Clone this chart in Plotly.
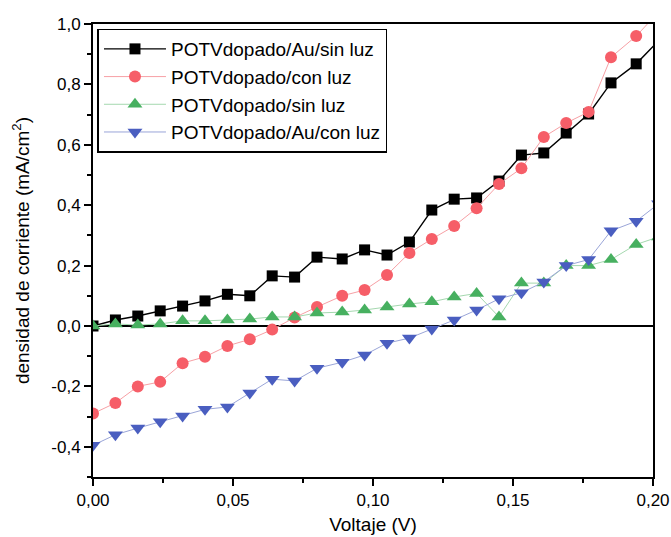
import plotly.graph_objects as go

voltaje = [0.000, 0.008, 0.016, 0.024, 0.032, 0.040, 0.048, 0.056, 0.064, 0.072,
           0.080, 0.089, 0.097, 0.105, 0.113, 0.121, 0.129, 0.137, 0.145, 0.153,
           0.161, 0.169, 0.177, 0.185, 0.194, 0.202]

au_sin_luz = [0.00, 0.020, 0.033, 0.050, 0.066, 0.083, 0.105, 0.100, 0.166, 0.162,
              0.228, 0.222, 0.252, 0.235, 0.278, 0.384, 0.420, 0.424, 0.480, 0.566,
              0.573, 0.639, 0.702, 0.805, 0.868, 0.945]
con_luz = [-0.29, -0.255, -0.200, -0.185, -0.123, -0.102, -0.066, -0.044, -0.012, 0.028,
           0.063, 0.100, 0.119, 0.169, 0.242, 0.288, 0.331, 0.390, 0.470, 0.522,
           0.626, 0.672, 0.709, 0.890, 0.960, 1.040]
sin_luz = [0.000, 0.007, 0.003, 0.007, 0.017, 0.017, 0.020, 0.023, 0.030, 0.030,
           0.043, 0.046, 0.053, 0.063, 0.073, 0.080, 0.096, 0.108, 0.030, 0.142,
           0.142, 0.200, 0.200, 0.220, 0.270, 0.295]
au_con_luz = [-0.395, -0.360, -0.338, -0.317, -0.298, -0.276, -0.268, -0.222, -0.176, -0.182,
              -0.140, -0.120, -0.096, -0.057, -0.040, -0.010, 0.020, 0.053, 0.090, 0.110,
              0.146, 0.200, 0.220, 0.315, 0.347, 0.405]

x_tick_vals = [0, 0.05, 0.10, 0.15, 0.20]
x_tick_text = ["0,00", "0,05", "0,10", "0,15", "0,20"]
y_tick_vals = [-0.4, -0.2, 0, 0.2, 0.4, 0.6, 0.8, 1.0]
y_tick_text = ["-0,4", "-0,2", "0,0", "0,2", "0,4", "0,6", "0,8", "1,0"]

series = [
    ("POTVdopado/Au/sin luz", au_sin_luz, "square", "#000000", "#000000", 1.4, 11),
    ("POTVdopado/con luz", con_luz, "circle", "#F65E68", "#F7A0A5", 1, 12),
    ("POTVdopado/sin luz", sin_luz, "triangle-up", "#47B060", "#A5D8AF", 1, 13),
    ("POTVdopado/Au/con luz", au_con_luz, "triangle-down", "#4A5EC0", "#9AA5D8", 1, 13),
]

fig = go.Figure()
for name, vals, sym, col, lcol, lw, ms in series:
    fig.add_trace(go.Scatter(
        x=voltaje, y=vals, name=name, mode="lines+markers",
        line=dict(color=lcol, width=lw),
        marker=dict(symbol=sym, size=ms, color=col, line=dict(width=0)),
    ))

fig.update_layout(
    width=671, height=537,
    paper_bgcolor="white", plot_bgcolor="white",
    margin=dict(l=93, r=18, t=24, b=60),
    separators=",.",
    font=dict(family="Arial, Liberation Sans, sans-serif", color="black"),
    legend=dict(
        x=0.008, y=0.99, xanchor="left", yanchor="top",
        bgcolor="white", bordercolor="black", borderwidth=1.5,
        font=dict(size=19), tracegroupgap=0, itemwidth=62,
    ),
    showlegend=True,
)
fig.update_xaxes(
    range=[0, 0.2], tickvals=x_tick_vals, ticktext=x_tick_text,
    ticks="outside", ticklen=7, tickwidth=1.5, tickcolor="black",
    minor=dict(tickvals=[0.025, 0.075, 0.125, 0.175], ticks="outside", ticklen=4, tickwidth=1.5, tickcolor="black"),
    showline=True, linecolor="black", linewidth=2, mirror=True,
    showgrid=False, zeroline=False, automargin=False,
    tickfont=dict(size=17),
    title=dict(text="Voltaje (V)", font=dict(size=19), standoff=8),
)
fig.update_yaxes(
    range=[-0.5, 1.0], tickvals=y_tick_vals, ticktext=y_tick_text,
    ticks="outside", ticklen=7, tickwidth=1.5, tickcolor="black",
    minor=dict(tickvals=[-0.5, -0.3, -0.1, 0.1, 0.3, 0.5, 0.7, 0.9], ticks="outside", ticklen=4, tickwidth=1.5, tickcolor="black"),
    showline=True, linecolor="black", linewidth=2, mirror=True,
    showgrid=False, zeroline=True, zerolinecolor="black", zerolinewidth=2, automargin=False,
    tickfont=dict(size=17),
    title=dict(text="densidad de corriente (mA/cm<sup>2</sup>)", font=dict(size=19), standoff=17),
)

fig.write_html("out.html", config={"displayModeBar": False},
               post_script="document.body.style.margin='0px';document.body.style.overflow='hidden';")
